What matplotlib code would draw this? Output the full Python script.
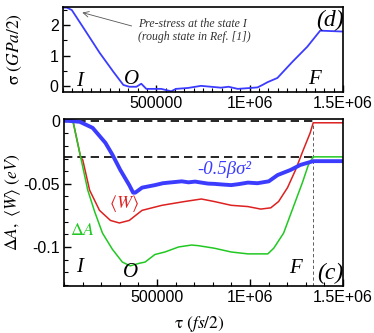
import matplotlib
matplotlib.use('Agg')
import matplotlib.pyplot as plt
from matplotlib.ticker import MultipleLocator

plt.rcParams['font.family'] = ['Liberation Sans', 'DejaVu Sans']
plt.rcParams['mathtext.fontset'] = 'stix'

# ---- data ----
tick_pos = [500000, 1000000, 1500000]
tick_lab = ['500000', '1E+06', '1.5E+06']

# panel (d): stress
tau_sig = [0, 21000, 48000, 117000, 197000, 271000, 324000, 356000, 394000,
           420000, 447000, 527000, 580000, 606000, 670000, 740000, 793000,
           846000, 888000, 936000, 1005000, 1043000, 1069000, 1096000,
           1149000, 1229000, 1309000, 1378000, 1500000]
sigma = [2.58, 2.58, 2.5, 1.85, 1.09, 0.46, 0.03, -0.03, -0.03,
         0.07, -0.1, -0.1, -0.18, -0.1, -0.07, 0.0, -0.03,
         -0.06, -0.03, -0.1, -0.07, -0.05, 0.03, 0.12,
         0.26, 0.79, 1.29, 1.82, 1.79]

# panel (c): -0.5 beta sigma^2
tau_b = [0, 21000, 85000, 154000, 223000, 261000, 303000, 351000, 372000,
         383000, 420000, 489000, 532000, 564000, 600000, 633000, 670000,
         705000, 739000, 775000, 808000, 850000, 899000, 940000, 989000,
         1040000, 1101000, 1149000, 1218000, 1271000, 1340000, 1500000]
val_b = [0, 0, -0.0008, -0.0056, -0.0175, -0.027, -0.039, -0.051, -0.057,
         -0.057, -0.053, -0.051, -0.0495, -0.049, -0.0485, -0.048, -0.0488,
         -0.0482, -0.049, -0.0498, -0.050, -0.0505, -0.051, -0.0502, -0.049,
         -0.0495, -0.048, -0.043, -0.039, -0.035, -0.032, -0.032]

# <W>
tau_w = [0, 48000, 90000, 101000, 138000, 191000, 250000, 298000, 351000,
         420000, 527000, 649000, 739000, 808000, 899000, 989000, 1058000,
         1112000, 1154000, 1202000, 1245000, 1287000, 1324000, 1340000, 1500000]
val_w = [0, 0, -0.029, -0.031, -0.055, -0.071, -0.079, -0.081, -0.079,
         -0.071, -0.067, -0.064, -0.062, -0.064, -0.067, -0.068, -0.070,
         -0.069, -0.064, -0.053, -0.039, -0.023, -0.0095, -0.0016, -0.0016]

# Delta A
tau_a = [0, 48000, 90000, 128000, 165000, 207000, 261000, 314000, 356000,
         404000, 436000, 489000, 543000, 617000, 686000, 723000, 808000,
         899000, 989000, 1096000, 1128000, 1181000, 1234000, 1282000,
         1314000, 1340000, 1500000]
val_a = [0, 0, -0.029, -0.055, -0.072, -0.089, -0.102, -0.112, -0.115,
         -0.113, -0.112, -0.106, -0.104, -0.100, -0.0985, -0.099, -0.101,
         -0.104, -0.1055, -0.1055, -0.101, -0.089, -0.068, -0.049,
         -0.035, -0.0286, -0.0286]

w_end = -0.0016
a_end = -0.0286
tau_end = 1340000

blue = '#3c3cff'
red = '#dd2020'
green = '#22c822'

fig = plt.figure(figsize=(3.74, 3.33), dpi=100)
ax1 = fig.add_axes([0.168, 0.724, 0.749, 0.255])
ax2 = fig.add_axes([0.171, 0.141, 0.746, 0.502])

serif_it = dict(family='Liberation Serif', style='italic')

# ---- top panel ----
ax1.plot(tau_sig, sigma, color=blue, lw=1.3)
ax1.set_xlim(0, 1500000)
ax1.set_ylim(-0.2, 2.6)
ax1.set_xticks(tick_pos)
ax1.set_xticklabels(tick_lab)
ax1.set_yticks([0, 1, 2])
ax1.xaxis.set_minor_locator(MultipleLocator(50000))
ax1.yaxis.set_minor_locator(MultipleLocator(0.5))
ax1.set_ylabel(r'$\mathrm{\sigma}\ (GPa/2)$', fontsize=12.5)
ax1.yaxis.set_label_coords(-0.14, 0.5)
ax1.annotate('', xy=(90000, 2.44), xytext=(383000, 1.95),
             arrowprops=dict(arrowstyle='->', color='#555555', lw=0.6))
ax1.text(404000, 1.82, 'Pre-stress at the state I\n(rough state in Ref. [1])',
         ha='left', va='center', fontsize=8.5, linespacing=1.05,
         color='#333333', **serif_it)
ax1.text(90000, 0.13, 'I', fontsize=15, ha='center', va='center', **serif_it)
ax1.text(367000, 0.2, 'O', fontsize=15, ha='center', va='center', **serif_it)
ax1.text(1346000, 0.2, 'F', fontsize=15, ha='center', va='center', **serif_it)
ax1.text(1431000, 2.17, '(d)', fontsize=17, ha='center', va='center', **serif_it)

# ---- bottom panel ----
ax2.hlines([0, a_end], 0, tau_end, colors='black', linestyles=(0, (5, 3)), lw=1.2)
ax2.vlines(tau_end, -0.131, w_end, colors='#444444', linestyles=(0, (4, 3)), lw=0.6)
ax2.plot(tau_w, val_w, color=red, lw=1.1)
ax2.plot(tau_a, val_a, color=green, lw=1.1)
ax2.plot(tau_b, val_b, color=blue, lw=2.8)
ax2.set_xlim(0, 1500000)
ax2.set_ylim(-0.131, 0.0015)
ax2.set_xticks(tick_pos)
ax2.set_xticklabels(tick_lab)
ax2.set_yticks([0, -0.05, -0.1])
ax2.set_yticklabels(['0', '-0.05', '-0.1'])
ax2.xaxis.set_minor_locator(MultipleLocator(100000))
ax2.yaxis.set_minor_locator(MultipleLocator(0.01))
ax2.set_ylabel(r'$\Delta A,\ \langle W\rangle\ (eV)$', fontsize=12.5)
ax2.yaxis.set_label_coords(-0.145, 0.5)
ax2.set_xlabel(r'$\mathrm{\tau}\ (fs/2)$', fontsize=12.5)
ax2.xaxis.set_label_coords(0.484, -0.17)

ax2.text(862000, -0.0385, '-0.5βσ²', color=blue, fontsize=13.5,
         ha='center', va='center', **serif_it)
ax2.text(325000, -0.0655, r'$\langle W\rangle$', color=red, fontsize=13,
         ha='center', va='center')
ax2.text(100000, -0.087, r'$\Delta A$', color=green, fontsize=13,
         ha='center', va='center')
ax2.text(85000, -0.1165, 'I', fontsize=15, ha='center', va='center', **serif_it)
ax2.text(356000, -0.12, 'O', fontsize=15, ha='center', va='center', **serif_it)
ax2.text(1245000, -0.117, 'F', fontsize=15, ha='center', va='center', **serif_it)
ax2.text(1431000, -0.121, '(c)', fontsize=17, ha='center', va='center', **serif_it)

for ax in (ax1, ax2):
    for s in ax.spines.values():
        s.set_linewidth(1.2)
    ax.tick_params(which='major', direction='in', length=5, width=1.0,
                   labelsize=11.5, pad=3)
    ax.tick_params(which='minor', direction='in', length=3, width=0.8)

fig.savefig('out.png', dpi=100)
